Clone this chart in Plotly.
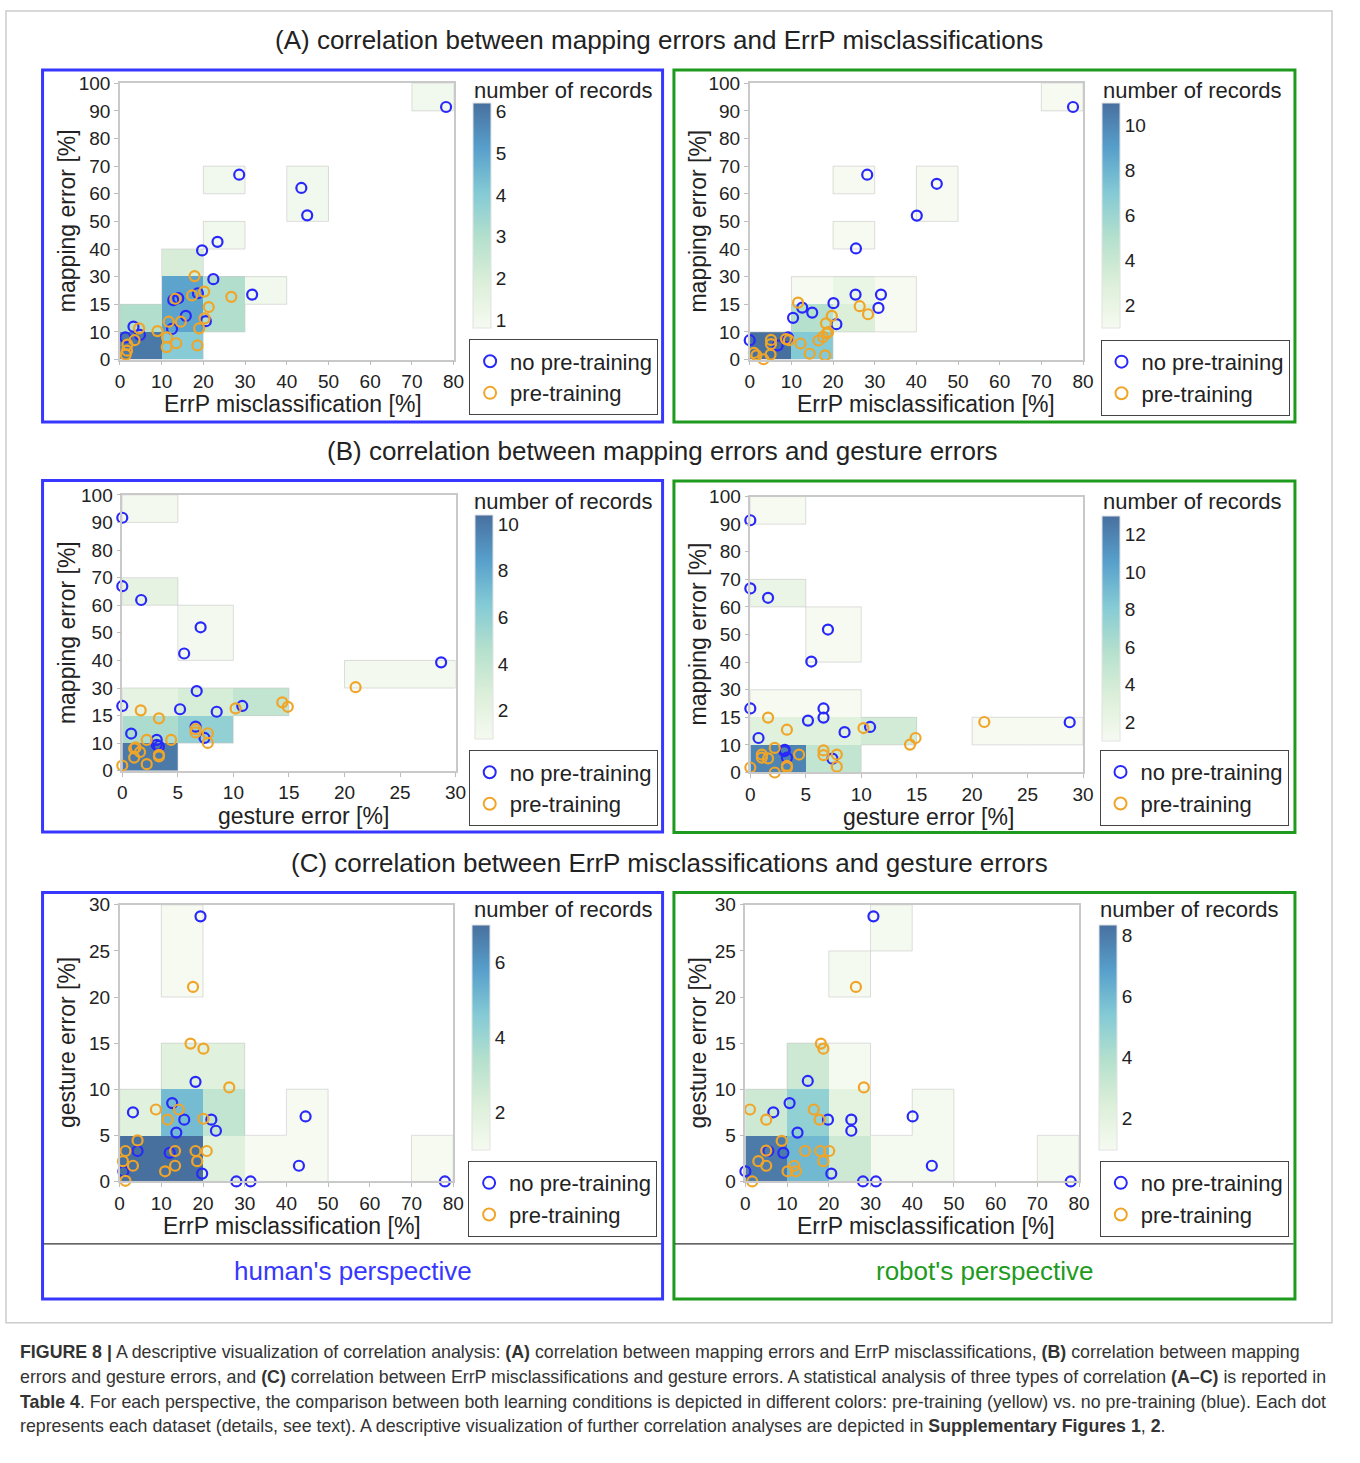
import numpy as np
import plotly.graph_objects as go

# The page adds an 8 px body margin, so the figure is 16 px smaller than the window
PAGE_W, PAGE_H = 1360, 1463
OFF = 8
W, H = PAGE_W - 2 * OFF, PAGE_H - 2 * OFF

FONT = "Liberation Sans, Arial, sans-serif"
TXT = "#222222"
BLUE = "rgb(40,40,250)"
ORANGE = "rgb(240,165,40)"
BOX_BLUE = "rgb(55,55,255)"
BOX_GREEN = "rgb(30,155,30)"

# ---------------- data (values in plotted-axis units) ----------------
# Mapping-error axes carry the reference's tick labels: the third tick reads "15".
map_tickvals = [0, 10, 20, 30, 40, 50, 60, 70, 80, 90, 100]
map_ticktext = ["0", "10", "15", "30", "40", "50", "60", "70", "80", "90", "100"]
errp_tickvals = [0, 10, 20, 30, 40, 50, 60, 70, 80]
gest_tickvals_B = [0, 5, 10, 15, 20, 25, 30]
gest_tickvals_C = [0, 5, 10, 15, 20, 25, 30]

errp_bins = [0, 10, 20, 30, 40, 50, 60, 70, 80]
map_bins = [0, 10, 20, 30, 40, 50, 60, 70, 80, 90, 100]
gest_bins_x = [0, 5, 10, 15, 20, 25, 30]
gest_bins_y = [0, 5, 10, 15, 20, 25, 30]

# (A) human's perspective: ErrP misclassification vs mapping error
A_h_no_x = [1.3, 3.25, 4.8, 28.6, 43.5, 44.9, 23.4, 19.7, 22.4, 31.7, 12.8, 14.0, 18.7, 15.8, 12.5, 20.6, 78.2]
A_h_no_y = [8.0, 11.9, 8.9, 66.9, 62.1, 52.2, 42.6, 39.5, 29.1, 23.5, 21.5, 22.2, 24.0, 15.8, 11.1, 13.9, 91.4]
A_h_pre_x = [1.4, 1.7, 1.8, 3.5, 4.6, 9.0, 11.3, 11.2, 13.5, 18.6, 11.7, 14.6, 13.3, 17.3, 17.9, 20.2, 21.3, 20.3, 19.0, 26.7]
A_h_pre_y = [1.8, 3.2, 5.4, 7.0, 11.3, 10.3, 8.0, 4.5, 5.9, 5.1, 13.7, 13.7, 22.0, 23.2, 30.2, 24.6, 19.0, 14.9, 11.3, 22.7]

# (A) robot's perspective
A_r_no_x = [0.0, 6.7, 9.2, 10.4, 12.6, 15.0, 20.1, 20.8, 25.5, 28.2, 25.4, 31.5, 30.9, 40.1, 44.9, 77.6]
A_r_no_y = [7.0, 5.1, 8.0, 15.1, 18.8, 17.0, 20.4, 12.8, 40.2, 66.9, 23.5, 23.5, 18.7, 52.1, 63.6, 91.4]
A_r_pre_x = [1.0, 1.6, 3.3, 5.0, 5.1, 5.1, 8.7, 9.4, 12.2, 14.4, 11.6, 18.1, 16.5, 17.6, 18.5, 18.8, 18.3, 19.7, 26.4, 28.4]
A_r_pre_y = [2.4, 1.5, 0.1, 1.8, 5.6, 7.1, 7.4, 7.0, 5.8, 2.1, 20.6, 1.5, 6.9, 8.2, 9.5, 9.9, 13.1, 15.8, 19.3, 16.4]

# (B) human's perspective: gesture error vs mapping error
B_h_no_x = [0.0, 0.0, 1.7, 7.05, 5.57, 6.7, 0.0, 5.2, 8.5, 10.8, 0.8, 6.6, 7.4, 3.1, 3.3, 3.1, 28.7]
B_h_no_y = [91.7, 66.9, 61.9, 52.0, 42.5, 28.9, 23.5, 22.3, 21.4, 23.5, 13.5, 16.0, 11.9, 11.2, 8.9, 9.4, 39.3]
B_h_pre_x = [0.0, 1.07, 1.2, 1.07, 1.6, 2.2, 2.2, 3.3, 3.3, 4.4, 3.3, 1.66, 6.6, 6.6, 7.7, 7.7, 10.2, 14.4, 14.9, 21.0]
B_h_pre_y = [1.9, 8.1, 8.5, 4.8, 6.8, 2.4, 11.2, 5.2, 5.8, 11.2, 19.0, 21.9, 15.1, 13.9, 13.6, 10.1, 22.6, 24.8, 23.2, 30.3]

# (B) robot's perspective
B_r_no_x = [0.0, 0.0, 1.6, 7.0, 5.5, 0.0, 6.6, 6.6, 5.2, 8.5, 10.8, 0.74, 3.07, 3.1, 3.3, 7.4, 28.8]
B_r_no_y = [91.4, 66.7, 63.3, 51.8, 40.2, 23.2, 23.2, 19.9, 18.8, 14.6, 16.5, 12.5, 7.7, 8.2, 5.4, 5.0, 18.2]
B_r_pre_x = [0.0, 1.04, 1.04, 1.6, 2.2, 2.2, 3.3, 3.3, 4.4, 1.6, 3.3, 6.6, 6.6, 7.8, 7.8, 10.2, 14.4, 14.9, 21.1]
B_r_pre_y = [1.8, 6.5, 5.4, 5.1, 8.9, 0.0, 2.4, 1.8, 6.5, 19.9, 15.5, 8.0, 6.3, 6.5, 2.1, 16.1, 10.1, 12.5, 18.3]

# (C) human's perspective: ErrP misclassification vs gesture error
C_h_no_x = [19.4, 18.2, 3.2, 12.6, 15.5, 22.0, 23.1, 13.6, 4.3, 12.0, 0.9, 19.8, 28.0, 31.4, 43.0, 44.6, 78.0]
C_h_no_y = [28.75, 10.8, 7.5, 8.5, 6.7, 6.7, 5.5, 5.3, 3.3, 3.1, 1.1, 0.85, 0.0, 0.0, 1.7, 7.05, 0.0]
C_h_pre_x = [17.6, 17.0, 20.1, 26.3, 8.7, 11.5, 14.2, 20.1, 4.3, 1.4, 0.8, 3.2, 1.4, 10.9, 13.3, 13.3, 18.2, 18.6, 20.9]
C_h_pre_y = [21.1, 14.95, 14.4, 10.2, 7.8, 6.7, 7.8, 6.8, 4.45, 3.3, 2.2, 1.7, 0.07, 1.1, 1.7, 3.3, 3.3, 2.2, 3.3]

# (C) robot's perspective
C_r_no_x = [30.7, 14.96, 10.6, 6.7, 19.8, 25.4, 25.4, 12.5, 5.5, 9.1, 0.0, 20.6, 28.2, 31.3, 40.1, 44.7, 78.0]
C_r_no_y = [28.75, 10.9, 8.5, 7.5, 6.7, 6.7, 5.5, 5.3, 3.3, 3.1, 1.1, 0.85, 0.0, 0.0, 7.05, 1.7, 0.0]
C_r_pre_x = [26.5, 18.1, 18.7, 28.4, 1.1, 5.0, 16.4, 17.8, 8.7, 5.0, 3.1, 5.0, 1.65, 10.1, 11.7, 12.1, 14.3, 17.95, 18.7, 20.1]
C_r_pre_y = [21.1, 14.95, 14.4, 10.2, 7.8, 6.7, 7.8, 6.7, 4.4, 3.35, 2.2, 1.7, 0.0, 1.1, 1.7, 1.1, 3.3, 3.3, 2.2, 3.3]

colorbar_ticks_A_h = [1, 2, 3, 4, 5, 6]
colorbar_ticks_A_r = [2, 4, 6, 8, 10]
colorbar_ticks_B_h = [2, 4, 6, 8, 10]
colorbar_ticks_B_r = [2, 4, 6, 8, 10, 12]
colorbar_ticks_C_h = [2, 4, 6]
colorbar_ticks_C_r = [2, 4, 6, 8]

# ---------------- layout geometry (page pixels) ----------------
panels = [
    dict(no=(A_h_no_x, A_h_no_y), pre=(A_h_pre_x, A_h_pre_y), xb=errp_bins, yb=map_bins,
         xr=[0, 80], yr=[0, 100], xt=errp_tickvals, yt=map_tickvals, ytt=map_ticktext,
         plot=(124.3, 462, 82.3, 362.7), zr=(0.8, 6.2), cbt=colorbar_ticks_A_h,
         cb=(481.7, 104.3, 329.3), leg=(477.7, 342.3),
         xtitle="ErrP misclassification [%]", xtpos=(299, 408),
         ytitle="mapping error [%]", ytpos=(71, 222), cbtitle=(482, 90)),
    dict(no=(A_r_no_x, A_r_no_y), pre=(A_r_pre_x, A_r_pre_y), xb=errp_bins, yb=map_bins,
         xr=[0, 80], yr=[0, 100], xt=errp_tickvals, yt=map_tickvals, ytt=map_ticktext,
         plot=(761.7, 1099, 82.3, 362.7), zr=(1.0, 11.0), cbt=colorbar_ticks_A_r,
         cb=(1118, 104.3, 329.3), leg=(1116.7, 342.7),
         xtitle="ErrP misclassification [%]", xtpos=(940, 408),
         ytitle="mapping error [%]", ytpos=(709, 222), cbtitle=(1118, 90)),
    dict(no=(B_h_no_x, B_h_no_y), pre=(B_h_pre_x, B_h_pre_y), xb=gest_bins_x, yb=map_bins,
         xr=[0, 30], yr=[0, 100], xt=gest_tickvals_B, yt=map_tickvals, ytt=map_ticktext,
         plot=(126.7, 464, 500, 780), zr=(0.8, 10.4), cbt=colorbar_ticks_B_h,
         cb=(483.3, 521.7, 746), leg=(477.3, 759.3),
         xtitle="gesture error [%]", xtpos=(310, 826),
         ytitle="mapping error [%]", ytpos=(71, 640), cbtitle=(482, 507)),
    dict(no=(B_r_no_x, B_r_no_y), pre=(B_r_pre_x, B_r_pre_y), xb=gest_bins_x, yb=map_bins,
         xr=[0, 30], yr=[0, 100], xt=gest_tickvals_B, yt=map_tickvals, ytt=map_ticktext,
         plot=(762.3, 1099, 501.7, 781.7), zr=(1.0, 13.0), cbt=colorbar_ticks_B_r,
         cb=(1118.3, 523, 748), leg=(1115.7, 759),
         xtitle="gesture error [%]", xtpos=(943, 827),
         ytitle="mapping error [%]", ytpos=(709, 641), cbtitle=(1118, 507)),
    dict(no=(C_h_no_x, C_h_no_y), pre=(C_h_pre_x, C_h_pre_y), xb=errp_bins, yb=gest_bins_y,
         xr=[0, 80], yr=[0, 30], xt=errp_tickvals, yt=gest_tickvals_C, ytt=[str(v) for v in gest_tickvals_C],
         plot=(124, 461.6, 916, 1196.7), zr=(1.0, 7.0), cbt=colorbar_ticks_C_h,
         cb=(480.7, 938.3, 1163.3), leg=(476.7, 1176),
         xtitle="ErrP misclassification [%]", xtpos=(298, 1242),
         ytitle="gesture error [%]", ytpos=(71, 1056), cbtitle=(482, 921)),
    dict(no=(C_r_no_x, C_r_no_y), pre=(C_r_pre_x, C_r_pre_y), xb=errp_bins, yb=gest_bins_y,
         xr=[0, 80], yr=[0, 30], xt=errp_tickvals, yt=gest_tickvals_C, ytt=[str(v) for v in gest_tickvals_C],
         plot=(757.3, 1095, 916, 1196.7), zr=(0.95, 8.35), cbt=colorbar_ticks_C_r,
         cb=(1115, 938.3, 1163.3), leg=(1116, 1176),
         xtitle="ErrP misclassification [%]", xtpos=(940, 1242),
         ytitle="gesture error [%]", ytpos=(709, 1056), cbtitle=(1115, 921)),
]

colorscale = [
    [0.0, "#f6faf1"], [0.2, "#dcefd9"], [0.4, "#b4e0cd"],
    [0.6, "#84cad5"], [0.8, "#579fcb"], [1.0, "#48709f"],
]

def fx(px):
    return (px - OFF) / W

def fy(py):
    return 1 - (py - OFF) / H

fig = go.Figure()
layout = dict(
    width=W, height=H, margin=dict(l=0, r=0, t=0, b=0), autosize=False,
    paper_bgcolor="white", plot_bgcolor="white",
    font=dict(family=FONT, color=TXT), showlegend=True,
)
annotations = []
shapes = []

def ann(text, px, py, size, color=TXT, xanchor="center", yanchor="middle", angle=0):
    annotations.append(dict(text=text, x=fx(px), y=fy(py), xref="paper", yref="paper",
                            xanchor=xanchor, yanchor=yanchor, showarrow=False, textangle=angle,
                            borderpad=0,
                            font=dict(size=size, color=color, family=FONT)))

for i, p in enumerate(panels):
    n = i + 1
    xa = "x" if n == 1 else f"x{n}"
    ya = "y" if n == 1 else f"y{n}"
    xkey = "xaxis" if n == 1 else f"xaxis{n}"
    ykey = "yaxis" if n == 1 else f"yaxis{n}"
    legkey = "legend" if n == 1 else f"legend{n}"
    l, r, t, b = p["plot"]

    allx = np.array(p["no"][0] + p["pre"][0])
    ally = np.array(p["no"][1] + p["pre"][1])
    counts, _, _ = np.histogram2d(allx, ally, bins=[p["xb"], p["yb"]])
    z = counts.T
    zshow = [[(v if v > 0 else None) for v in row] for row in z]

    cb_left, cb_top, cb_bot = p["cb"]
    fig.add_trace(go.Heatmap(
        x=p["xb"], y=p["yb"], z=zshow, xaxis=xa, yaxis=ya,
        colorscale=colorscale, zmin=p["zr"][0], zmax=p["zr"][1],
        hoverinfo="skip", showscale=True,
        colorbar=dict(x=fx(cb_left), xanchor="left", xpad=0, ypad=0,
                      y=fy((cb_top + cb_bot) / 2), yanchor="middle",
                      len=cb_bot - cb_top, lenmode="pixels",
                      thickness=18, thicknessmode="pixels",
                      outlinewidth=1, outlinecolor="#e2e2e2",
                      tickvals=p["cbt"], ticks="",
                      tickfont=dict(size=19, color=TXT, family=FONT)),
    ))

    # faint outline around the occupied region of the histogram
    ny, nx = z.shape
    def filled(yi, xi):
        return 0 <= yi < ny and 0 <= xi < nx and z[yi, xi] > 0
    ox, oy = [], []
    for yi in range(ny):
        for xi in range(nx):
            if z[yi, xi] <= 0:
                continue
            x0, x1 = p["xb"][xi], p["xb"][xi + 1]
            y0, y1 = p["yb"][yi], p["yb"][yi + 1]
            if not filled(yi - 1, xi):
                ox += [x0, x1, None]; oy += [y0, y0, None]
            if not filled(yi + 1, xi):
                ox += [x0, x1, None]; oy += [y1, y1, None]
            if not filled(yi, xi - 1):
                ox += [x0, x0, None]; oy += [y0, y1, None]
            if not filled(yi, xi + 1):
                ox += [x1, x1, None]; oy += [y0, y1, None]
    fig.add_trace(go.Scatter(x=ox, y=oy, mode="lines", xaxis=xa, yaxis=ya,
                             line=dict(color="rgba(200,200,200,0.6)", width=1),
                             hoverinfo="skip", showlegend=False))

    for (xs, ys), name, col in [(p["no"], "no pre-training", BLUE), (p["pre"], "pre-training", ORANGE)]:
        fig.add_trace(go.Scatter(
            x=xs, y=ys, mode="markers", name=name, xaxis=xa, yaxis=ya, legend=legkey,
            cliponaxis=False,
            marker=dict(symbol="circle-open", size=10, color=col, line=dict(width=2.2, color=col)),
        ))

    common = dict(showline=True, mirror=True, linecolor="#c9c9c9", linewidth=1.5,
                  ticks="outside", ticklen=4, tickcolor="#bdbdbd", showgrid=False,
                  zeroline=False, tickfont=dict(size=19, color=TXT, family=FONT))
    layout[xkey] = dict(domain=[fx(l), fx(r)], range=p["xr"], anchor=ya,
                        tickvals=p["xt"], **common)
    layout[ykey] = dict(domain=[fy(b), fy(t)], range=p["yr"], anchor=xa,
                        tickvals=p["yt"], ticktext=p["ytt"], **common)
    lx, ly = p["leg"]
    layout[legkey] = dict(x=fx(lx), y=fy(ly), xanchor="left", yanchor="top",
                          bgcolor="white", bordercolor="#444444", borderwidth=1,
                          font=dict(size=22, color=TXT, family=FONT),
                          itemsizing="constant", tracegroupgap=0)

    ann(p["xtitle"], p["xtpos"][0], p["xtpos"][1], 23)
    ann(p["ytitle"], p["ytpos"][0], p["ytpos"][1], 23, angle=-90)
    ann("number of records", p["cbtitle"][0], p["cbtitle"][1], 22, xanchor="left")

# section titles
ann("(A) correlation between mapping errors and ErrP misclassifications", 670, 38, 26)
ann("(B) correlation between mapping errors and gesture errors", 673, 456, 26)
ann("(C) correlation between ErrP misclassifications and gesture errors", 681, 874, 26)
ann("human's perspective", 360, 1288, 26, color=BOX_BLUE)
ann("robot's perspective", 999, 1288, 26, color=BOX_GREEN)

# panel frames
def rect(x0, y0, x1, y1, color, width):
    shapes.append(dict(type="rect", xref="paper", yref="paper", x0=fx(x0), x1=fx(x1),
                       y0=fy(y1), y1=fy(y0), line=dict(color=color, width=width),
                       fillcolor="rgba(0,0,0,0)", layer="above"))

def hline(x0, x1, y, color, width):
    shapes.append(dict(type="line", xref="paper", yref="paper", x0=fx(x0), x1=fx(x1),
                       y0=fy(y), y1=fy(y), line=dict(color=color, width=width), layer="above"))

rect(9, 9, 1351, 1340, "#cccccc", 1.5)
rect(46, 69, 673.5, 426, BOX_BLUE, 3)
rect(685, 69, 1313.5, 426, BOX_GREEN, 3)
rect(46, 485.5, 673.5, 842, BOX_BLUE, 3)
rect(685, 486, 1313.5, 842.5, BOX_GREEN, 3)
rect(46, 903.5, 673.5, 1316, BOX_BLUE, 3)
rect(685, 903.5, 1313.5, 1316, BOX_GREEN, 3)
hline(47, 672, 1260, "#333333", 1.2)
hline(686, 1312, 1260, "#333333", 1.2)

# caption
cap = [
    "<b>FIGURE 8 |</b> A descriptive visualization of correlation analysis: <b>(A)</b> correlation between mapping errors and ErrP misclassifications, <b>(B)</b> correlation between mapping",
    "errors and gesture errors, and <b>(C)</b> correlation between ErrP misclassifications and gesture errors. A statistical analysis of three types of correlation <b>(A–C)</b> is reported in",
    "<b>Table 4</b>. For each perspective, the comparison between both learning conditions is depicted in different colors: pre-training (yellow) vs. no pre-training (blue). Each dot",
    "represents each dataset (details, see text). A descriptive visualization of further correlation analyses are depicted in <b>Supplementary Figures 1</b>, <b>2</b>.",
]
for k, line in enumerate(cap):
    ann(line, 22, 1370 + 25 * k, 17.8, color="#333333", xanchor="left")

layout["annotations"] = annotations
layout["shapes"] = shapes
fig.update_layout(**layout)
fig.write_html("out.html")
